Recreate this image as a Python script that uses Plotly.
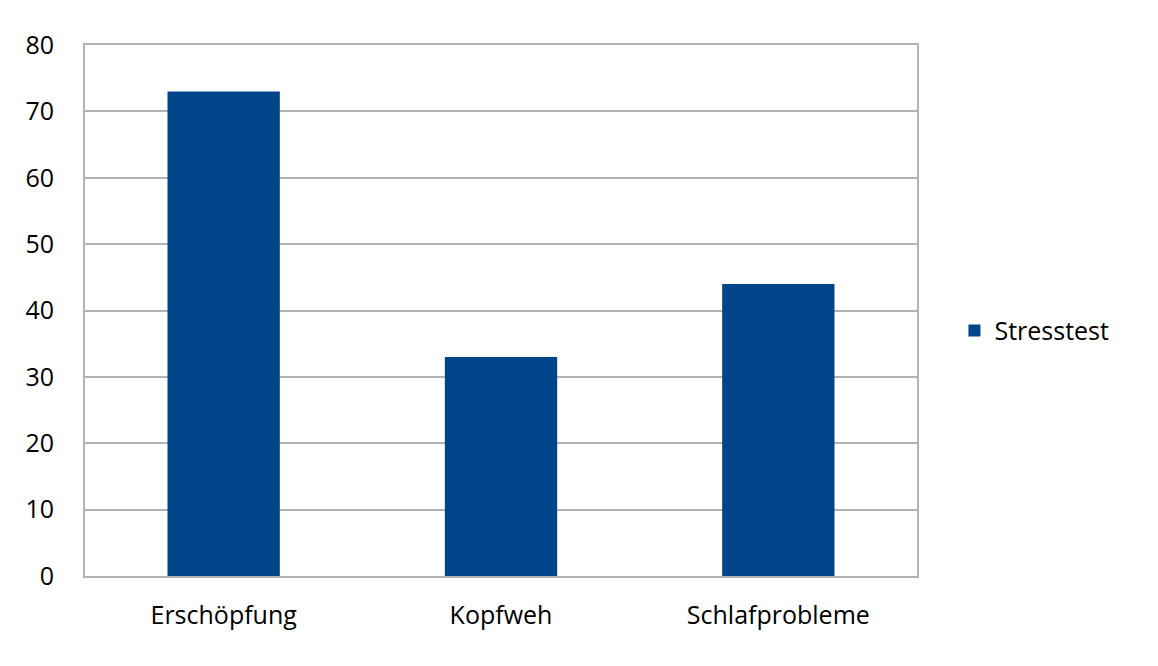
import plotly.graph_objects as go

categories = ["Erschöpfung", "Kopfweh", "Schlafprobleme"]
values = [73, 33, 44]
series_name = "Stresstest"
y_ticks = [0, 10, 20, 30, 40, 50, 60, 70, 80]

fig = go.Figure()
fig.add_trace(go.Bar(x=categories, y=values, name=series_name,
                     marker=dict(color="#00448A", line=dict(width=0)),
                     showlegend=True))

grid = "#B3B3B3"
fig.update_layout(
    width=1158, height=666,
    margin=dict(l=77, r=249, t=37, b=98),
    paper_bgcolor="white", plot_bgcolor="white",
    font=dict(family="Open Sans, Lato, sans-serif", color="#000000"),
    bargap=0.595,
    showlegend=True,
    legend=dict(x=1.045, y=0.462, xanchor="left", yanchor="middle",
                font=dict(size=25), itemwidth=30),
)
fig.update_xaxes(showline=True, linecolor=grid, linewidth=2, mirror=True,
                 showgrid=False, tickfont=dict(size=25), ticks="",
                 ticklabelstandoff=16)
fig.update_yaxes(range=[0, 80], tickvals=y_ticks, showgrid=True, gridcolor=grid,
                 gridwidth=1.5, showline=True, linecolor=grid, linewidth=2, mirror=True,
                 tickfont=dict(size=25), ticks="", ticklabelstandoff=24, zeroline=False)

fig.write_html("out.html")
